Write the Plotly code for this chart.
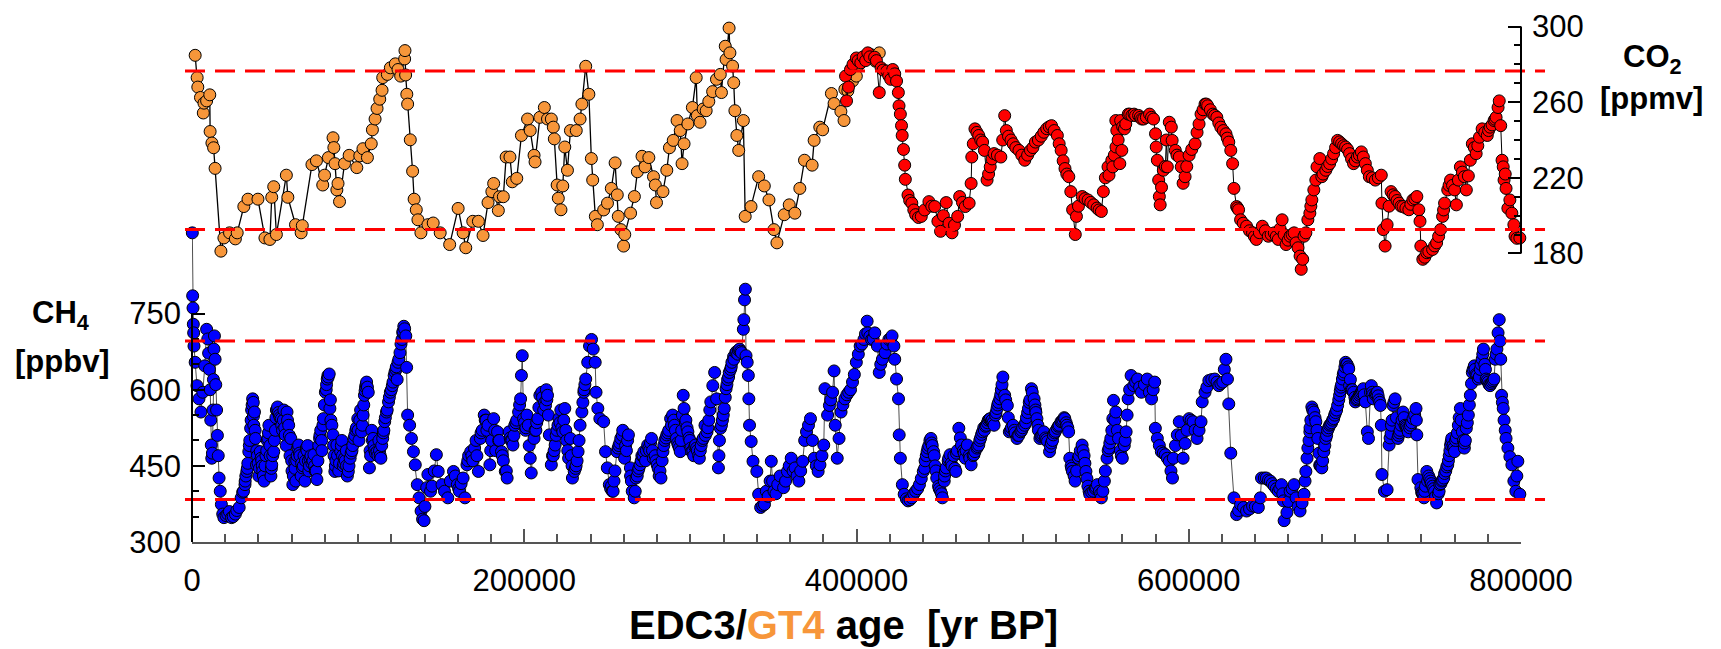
import plotly.graph_objects as go

# ---------------- data ----------------
# CO2, Vostok (GT4 age), ppmv
co2_gt4_age = [1900, 3100, 3500, 5100, 6800, 7200, 8800, 10700, 10900, 12000, 13000, 13900, 17400, 19200, 22600,
               26100, 27200, 31200, 33700, 39700, 43900, 46900, 48000, 49200, 50800, 56800, 57700, 62300, 65700,
               66400, 72200, 74900, 78700, 79800, 82100, 84900, 85400, 86100, 87200, 87900, 88800, 91800, 94600,
               99200, 101000, 102900, 105600, 107900, 108600, 110200, 111400, 113000, 114400, 114800, 117600,
               119400, 122400, 124000, 125600, 128000, 128200, 128600, 129300, 129800, 131400, 132800, 133700,
               135000, 136000, 137800, 142000, 145200, 149400, 155100, 160200, 163200, 164800, 169000, 172400,
               175200, 178200, 180500, 181600, 184400, 185100, 187400, 189100, 191400, 192800, 195500, 198300,
               202000, 203600, 205900, 206500, 209400, 212100, 214000, 216300, 217500, 218100, 219800, 220500,
               222100, 223200, 224400, 226000, 227800, 231300, 233600, 234700, 237000, 238900, 240400, 241200,
               242800, 244000, 247800, 250100, 252400, 254700, 256000, 256600, 258200, 259800, 260500, 264000,
               266300, 268100, 270900, 272700, 275000, 277800, 278900, 279600, 283500, 285800, 287400, 289700,
               292000, 293900, 295000, 296200, 298500, 301200, 303500, 304200, 305800, 307700, 309500, 311100,
               313400, 315700, 318000, 318700, 321000, 321500, 323300, 323800, 325400, 326100, 326800, 328000,
               329100, 331900, 333000, 336500, 341100, 344500, 347300, 350300, 352100, 356500, 359500, 362900,
               365900, 368700, 373300, 374500, 377900, 379600, 384900, 386500, 390600, 392500, 393000, 394800,
               397600, 399900, 401700, 408600, 411400, 413700]
co2_gt4 = [284.8, 273, 268, 262.5, 254.3, 259.5, 260.7, 263.9, 244.5, 238.4, 235.9, 225, 181.2, 188.2, 190.9,
           187.7, 190.9, 204.8, 208.7, 208.7, 188.2, 187.4, 209.7, 215.3, 190, 221.4, 209.7, 195.2, 190.9,
           194.7, 227, 229, 216.2, 221.4, 230.7, 241.2, 236, 227.5, 213.6, 217, 207.4, 227.5, 231.9,
           225.4, 231.6, 235.4, 230.7, 238, 245.4, 251.1, 256.7, 261.6, 266.3, 273, 274.7,
           278.2, 280.3, 277.3, 273.8, 282.9, 287.3, 274.4, 264.2, 259, 240.1, 223.5, 208.7,
           203.1, 197.8, 190.9, 195.2, 196.1, 190.9, 184.7, 203.8, 190.9, 183, 197, 197,
           189.5, 206.9, 212.7, 217, 202.7, 210, 210, 231, 231, 217.9, 219.7, 242.4,
           251.1, 245, 231.9, 228.4, 252, 257.2, 251.1, 251.1, 246.8, 240.6, 216.2, 209.2,
           203.1, 215.7, 236.3, 224, 245, 245, 251.1, 259, 279, 264.2, 230.2, 218.8,
           199.6, 195.2, 203, 206.6, 214.4, 227.9, 211, 199.6, 192.6, 183.9, 190, 201.3,
           210.1, 223.2, 231.4, 225.8, 230.7, 220.6, 216.2, 206.9, 212.7, 224, 235.9, 239.8,
           250.3, 245, 227.5, 238, 248.5, 257.2, 273, 252.9, 249.4, 256.4, 255.5, 260.4,
           265.6, 272.1, 274.7, 265.1, 289.6, 282.6, 299.2, 286.1, 279.1, 270.3, 255.5, 242.4,
           234.5, 250.3, 199.6, 204.8, 220.6, 215.7, 208.3, 192.6, 185.6, 200.5, 205.7, 201.3,
           214.4, 229.3, 226.7, 239.8, 246.8, 245.4, 264.6, 259.3, 255.1, 250.3, 266.8, 266,
           271.2, 273.8, 280, 285.2, 281.7, 286.1]

# CO2, EPICA Dome C (EDC3 age), ppmv
co2_edc_age = [393400, 394000, 396400, 399900, 402600, 406800, 410900, 413700, 414800, 418300, 420600, 421800,
               424100, 425200, 425600, 426400, 427100, 427500, 429000, 429400, 431000, 433300, 435600, 439000,
               443600, 447100, 450600, 454000, 457500, 460900, 462100, 465500, 467800, 469000, 469400, 471300,
               473600, 475900, 477000, 478600, 480500, 482800, 486900, 489200, 490200, 494300, 497800, 501300,
               504700, 507700, 512800, 517400, 520900, 523200, 525500, 527800, 529000, 530100, 531700, 532400,
               535900, 539400, 542800, 547400, 548600, 551400, 552000, 553700, 554300, 556100, 556200, 556700,
               558500, 559000, 559700, 561300, 562100, 563600, 564500, 567100, 568000, 571700, 572800, 576400,
               578800, 580000, 580400, 581100, 581900, 582300, 582800, 584700, 587100, 588300, 589500, 590000,
               591900, 594300, 595500, 596600, 597800, 600200, 603800, 606200, 607400, 609800, 611400, 614500,
               616900, 619300, 622400, 624100, 625300, 626400, 627200, 628800, 630000, 631200, 634800, 638400,
               640700, 644300, 647900, 651500, 653900, 656200, 658600, 661000, 663400, 664600, 667000, 667700,
               668600, 669400, 670500, 671700, 672900, 674100, 675300, 676500, 677200, 678900, 680100, 682500,
               684800, 687200, 689600, 692000, 694400, 696800, 699200, 701500, 703900, 706300, 708700, 712300,
               715900, 716300, 717100, 718200, 719400, 721800, 724200, 726600, 729000, 732500, 734900, 737300,
               738500, 739200, 739700, 740900, 743300, 746800, 749200, 751600, 752800, 754000, 755900, 757600,
               760000, 761100, 762300, 763500, 765900, 767100, 769500, 770700, 773000, 775000, 776600, 779700,
               781400, 783800, 785000, 786200, 786900, 787800, 788600, 789300, 789800, 791000, 792100, 793300,
               794500, 795700, 796400, 799300, 802900]
co2_edc = [273.8, 260.7, 277.3, 283.4, 280.8, 286.1, 283.8, 265.1, 278.2, 276.5, 272.1, 277.3,
           271.2, 265.1, 258.1, 253.7, 247.6, 242.4, 226.7, 219.2, 210.9, 206.6, 200.5, 199.6,
           207.4, 204.8, 191.7, 206.9, 190.9, 199.6, 210.1, 204.8, 206.6, 217, 231, 245.9,
           242.4, 238.9, 234.5, 218.8, 225.8, 232.8, 231, 252.9, 245, 238, 234.5, 229.3,
           234.5, 238.9, 244.1, 247.6, 242.4, 234.5, 224.9, 220.6, 212.7, 203.1, 190, 199.6,
           210.1, 208.3, 205.7, 202.2, 212.7, 225.8, 221.4, 229.3, 225.8, 250.3, 236.3, 245,
           227.5, 250.3, 234.5, 245.9, 248.5, 253.7, 253.7, 253.7, 252.9, 251.1, 251.1, 253.7,
           251.1, 243.3, 236.3, 229.3, 218.8, 210.1, 205.7, 224, 225.8, 249.4, 246.8, 239.8,
           234.5, 231, 225.8, 217.1, 220.6, 231.9, 238, 248.5, 253.7, 259, 258.1, 253.7,
           252, 246.8, 243.3, 238.9, 234.5, 227.5, 214.4, 204.8, 203.1, 197.8, 194.4, 190.9,
           187.4, 194.4, 189.1, 190.9, 187.4, 197.8, 184.7, 189.1, 190.9, 185.6, 178.6, 171.6,
           176.9, 189.1, 190.9, 197.8, 201.3, 208.3, 213.6, 218.8, 225.8, 230.2, 220.6, 224,
           227.5, 232.8, 239.8, 238, 236.3, 232.8, 227.5, 231, 233.7, 227.5, 220.6, 218.8,
           221.4, 206.6, 192.6, 183.9, 195.2, 212.7, 210.1, 206.6, 204.8, 203.1, 208.3, 210.1,
           203.1, 197, 183.9, 176.9, 180.4, 182.1, 185.6, 192.6, 199.6, 206.6, 213.6, 218.8,
           213.6, 205.7, 218.8, 225.8, 220.6, 213.6, 229.3, 238, 232.8, 241.5, 245.9, 242.4,
           246.8, 250.3, 252, 257.2, 260.7, 247.6, 229.3, 225.8, 218.8, 214.4, 203.9, 208.3,
           201.3, 195.2, 189.1, 188.2, 188.2]
# further EDC CO2 samples read from the dense parts of the record
co2_edc_age_b = [395200, 397900, 401000, 404000, 405500, 408000, 412000, 416000, 419400, 423000, 428300, 432000,
                 434500, 437300, 441000, 445300, 449000, 452300, 455700, 459000, 463800, 470300, 472500, 474800,
                 479500, 481600, 484800, 488000, 491500, 493000, 495900, 499500, 503000, 506200, 509500, 511200,
                 514500, 516000, 519000, 522000, 524400, 526600, 533600, 537600, 541000, 544800, 546000, 549800,
                 555200, 557500, 560200, 565800, 569800, 570800, 574500, 577600, 583600, 585900, 586500, 592900,
                 598800, 601800, 605000, 608600, 610600, 613000, 615600, 618100, 620800, 623200, 629400, 632800,
                 636600, 639500, 642500, 646100, 649600, 652700, 655000, 657400, 659800, 662200, 665800, 673500,
                 680800, 683600, 686000, 688400, 690800, 693200, 695600, 698000, 700300, 702700, 705100, 707500,
                 710500, 714100, 720600, 723000, 725400, 727800, 730700, 733700, 736100, 742100, 744500, 748000,
                 750400, 753400, 756700, 758800, 764700, 768300, 771900, 774000, 778200, 780500, 782600, 784400,
                 790500, 797500, 801000]
co2_edc_b = [268, 280, 282, 284, 282, 284, 282, 277, 274, 275, 235, 208,
             203, 199, 203, 205, 197, 200, 196, 195, 207, 238, 244, 240,
             222, 230, 232, 240, 242, 240, 236, 232, 232, 236, 240, 242,
             246, 247, 245, 238, 229, 222, 205, 209, 207, 204, 203, 220,
             232, 240, 247, 253, 253, 252, 252, 252, 215, 226, 240, 232,
             226, 235, 244, 256, 259, 256, 253, 249, 245, 241, 204, 196,
             192, 189, 191, 192, 190, 189, 193, 190, 187, 190, 183, 205,
             222, 226, 230, 236, 239, 237, 235, 230, 229, 232, 231, 224,
             220, 220, 205, 211, 208, 205, 204, 206, 209, 178, 181, 184,
             189, 203, 216, 216, 223, 221, 236, 237, 244, 245, 248, 251,
             222, 188, 188]

# CH4, EPICA Dome C (EDC3 age), ppbv
ch4_age = [200, 400, 600, 800, 1000, 1200, 1900, 3000, 4200, 5400, 6500, 7700, 8800, 9500, 10000, 10500, 11000,
           11300, 11600, 11900, 12300, 12600, 12900, 13200, 13500, 13900, 14300, 14800, 15300, 15800, 16300,
           17000, 17700, 18500, 19200, 21500, 23800, 26100, 28400, 29600, 31900, 33000, 34200, 35300, 36500,
           37600, 38200, 38800, 41100, 43400, 45700, 48000, 49200, 51500, 53800, 56100, 57200, 59500, 60700,
           61900, 64200, 66500, 68800, 71000, 73400, 75200, 76800, 79100, 80300, 81400, 82600, 83000, 84900,
           86000, 87200, 89500, 91800, 94100, 95200, 97500, 99800, 102100, 103800, 105100, 106100, 106800,
           109000, 111400, 113700, 114800, 116000, 117100, 118300, 119400, 120600, 121700, 124000, 125200,
           126400, 127500, 128700, 129200, 129800, 131000, 132100, 133300, 134400, 135600, 136700, 137900,
           138800, 139700, 140200, 141300, 142000, 143600, 147100, 148200, 150500, 154000, 157400, 159700,
           163200, 164300, 165500, 167800, 170100, 172400, 173600, 175900, 178200, 179300, 181600, 183900,
           186300, 188600, 189700, 190900, 193200, 194300, 196600, 197800, 198300, 198800, 199600, 202400,
           203600, 204200, 205900, 208200, 209400, 210500, 212800, 214000, 215100, 216300, 218600, 220900,
           223200, 224400, 226700, 227800, 229000, 230100, 232400, 233600, 234700, 235900, 237000, 238200,
           239300, 240500, 241500, 242700, 243200, 244300, 245500, 247800, 248900, 250000, 251200, 253500,
           255800, 258100, 260400, 262700, 263900, 265000, 266200, 267300, 269700, 272000, 274300, 276600,
           277700, 280000, 282300, 283500, 285800, 288100, 289300, 291600, 293900, 295700, 296200, 298500,
           300800, 303100, 305400, 307700, 310000, 312300, 313500, 314600, 315800, 316900, 318100, 320400,
           321500, 323400, 325000, 327300, 329600, 330700, 331900, 332200, 332600, 333100, 333500, 334200,
           334900, 335200, 335600, 336600, 337700, 340000, 341100, 342300, 344600, 345700, 348000, 348700,
           350300, 352600, 356100, 358400, 360700, 363000, 365300, 367600, 369900, 372300, 374600, 376900,
           378000, 380300, 381000, 382600, 383700, 385600, 386500, 387200, 388400, 389500, 390700, 393000,
           395300, 397600, 399900, 402200, 404500, 406400, 406800, 409100, 411000, 412600, 413700, 415600,
           417200, 419500, 421400, 422500, 423000, 424100, 425300, 425700, 426400, 427600, 428700, 431000,
           433300, 435600, 437900, 440200, 442500, 444800, 446400, 448300, 450600, 451700, 454000, 456300,
           459800, 461600, 463200, 465500, 466700, 469000, 471300, 473600, 475900, 478200, 480500, 482800,
           484600, 486300, 488100, 489200, 490800, 492000, 494300, 496600, 498900, 501200, 503500, 505300,
           506900, 508600, 510400, 512700, 515000, 516200, 518500, 520800, 523100, 525400, 527700, 528400,
           530000, 531600, 533500, 535800, 538100, 540400, 542700, 545000, 547400, 549200, 550800, 553100,
           554300, 554700, 556100, 557700, 560000, 562300, 563500, 565300, 566900, 569200, 571500, 575000,
           577600, 579500, 579900, 581100, 583500, 585900, 588300, 590200, 590700, 593100, 594300, 596600,
           597800, 600200, 602600, 605000, 607400, 608100, 609800, 612100, 615700, 618100, 620500, 622400,
           623300, 624100, 625300, 627200, 628800, 631200, 634800, 638400, 641900, 643100, 643800, 646700,
           649100, 651500, 653900, 655800, 657000, 657400, 659100, 661000, 663400, 664600, 667000, 668200,
           669400, 670500, 671700, 672900, 674100, 675300, 676500, 677700, 678900, 680100, 681300, 682500,
           684800, 687200, 689600, 690800, 692500, 694400, 696300, 696800, 699200, 700300, 702700, 705100,
           706300, 707500, 708200, 709900, 711100, 713500, 715400, 715900, 716300, 717800, 719400, 720600,
           721800, 723000, 724200, 725900, 727800, 729000, 730200, 732100, 735000, 736800, 737300, 738000,
           739700, 741600, 743300, 745600, 748000, 749200, 751100, 753500, 755900, 757600, 758300, 760000,
           762300, 763500, 764700, 765900, 767100, 768300, 769500, 770700, 771900, 774300, 776600, 777400,
           779000, 781400, 783800, 784500, 785500, 786200, 786900, 787400, 787800, 788300, 789300, 789800,
           791000, 792100, 793300, 794500, 795700, 796900, 798100, 799300, 801200, 802900]
ch4 = [909, 785, 761, 729, 712, 686, 654, 608, 582, 556, 595, 647, 719, 700, 672, 640, 600,
       540, 491, 465, 475, 560, 620, 680, 706, 660, 610, 560, 510, 470, 426,
       400, 374, 355, 348, 355, 348, 355, 368, 387, 413, 439, 478, 524, 582,
       556, 504, 452, 478, 420, 504, 452, 478, 566, 543, 511, 556, 504, 413,
       459, 491, 446, 485, 465, 472, 423, 504, 543, 595, 621, 631, 563, 511,
       439, 491, 478, 465, 439, 465, 504, 543, 517, 589, 615, 595, 446,
       504, 478, 465, 504, 537, 556, 576, 595, 608, 628, 654, 673,
       699, 725, 706, 644, 550, 530, 504, 478, 452, 413, 387, 361,
       345, 342, 370, 407, 433, 400, 472, 439, 413, 387, 439, 413,
       426, 387, 452, 478, 485, 439, 504, 550, 530, 452, 543, 517,
       478, 439, 426, 517, 491, 530, 556, 582, 628, 667, 543, 530,
       465, 436, 504, 543, 589, 595, 569, 589, 511, 452, 491, 543,
       517, 563, 465, 504, 426, 439, 478, 530, 556, 595, 621, 654,
       686, 699, 680, 654, 595, 563, 543, 537, 478, 446, 413, 400,
       478, 504, 465, 511, 446, 400, 387, 426, 452, 478, 491, 504,
       465, 452, 426, 478, 511, 543, 550, 504, 478, 589, 563, 517,
       478, 491, 465, 504, 517, 576, 608, 634, 582, 446, 524, 563,
       602, 634, 654, 673, 680, 673, 719, 738, 777, 798, 667, 654,
       628, 582, 530, 498, 459, 439, 394, 368, 374, 400, 420, 459,
       400, 413, 407, 439, 465, 446, 420, 459, 517, 543, 465, 439,
       452, 491, 602, 550, 569, 595, 637, 530, 465, 504, 556, 582,
       595, 615, 654, 686, 699, 735, 712, 699, 712, 686, 634, 660,
       673, 699, 706, 686, 660, 621, 582, 511, 465, 413, 394, 381,
       387, 400, 413, 439, 478, 504, 478, 426, 400, 387, 446, 472,
       439, 524, 491, 465, 491, 452, 478, 491, 517, 530, 543, 530,
       563, 582, 625, 589, 569, 517, 530, 504, 517, 530, 563, 602,
       582, 543, 504, 517, 498, 478, 511, 524, 537, 543, 517, 465,
       439, 420, 465, 491, 439, 394, 400, 413, 387, 420, 465, 504,
       543, 579, 556, 504, 465, 517, 582, 628, 608, 621, 595, 621,
       582, 615, 524, 504, 478, 472, 459, 426, 465, 511, 537, 465,
       494, 543, 537, 504, 537, 576, 595, 618, 621, 608, 615, 660,
       621, 572, 475, 387, 354, 374, 361, 371, 368, 387, 426, 426,
       420, 410, 400, 413, 381, 342, 358, 400, 413, 387, 361, 377,
       394, 439, 485, 517, 566, 556, 537, 504, 452, 446, 478, 504,
       530, 543, 569, 589, 621, 654, 641, 608, 595, 576, 589, 602,
       576, 517, 504, 608, 582, 595, 569, 530, 433, 400, 403, 491,
       514, 569, 582, 504, 530, 556, 530, 517, 543, 563, 511, 423,
       407, 387, 439, 420, 400, 377, 413, 426, 452, 491, 504, 478,
       530, 563, 517, 485, 524, 550, 589, 634, 647, 621, 660, 680,
       621, 608, 621, 660, 680, 712, 738, 696, 660, 589, 563, 540,
       504, 485, 468, 452, 420, 400, 459, 394, 377, 384]
# further CH4 samples read from the dense parts of the record
ch4_age_b = [20500, 22500, 24800, 27000, 30500, 32400, 33600, 34800, 35900, 36900, 37200, 39400, 40200, 42000,
             42600, 44500, 46300, 46900, 47500, 50200, 50800, 52600, 54500, 55300, 56700, 58200, 59000, 60200,
             62500, 63300, 65000, 65700, 67400, 68000, 69600, 70300, 72200, 74200, 77500, 78200, 79700, 81000,
             82000, 83600, 85500, 86600, 88300, 90200, 91000, 92900, 93500, 96300, 98600, 100500, 101500, 103000,
             104500, 107500, 108200, 110000, 112500, 115500, 122800, 123500, 126900,
             144500, 145800, 152000, 155500, 158500, 161000, 166500, 169000, 171000, 174700, 177000, 180400,
             182800, 185000, 187400, 192000, 195500, 200800, 201600, 207000, 211700, 213300, 217500, 219700,
             222000, 225500, 228300, 231200, 236500,
             252500, 254600, 257000, 259300, 261500, 264500, 268500, 270800, 273000, 275500, 278800, 281200,
             284600, 287000, 290400, 292800, 294800, 297300, 299700, 302000, 304200, 306500, 308800, 311100,
             317500, 319300, 322400, 324200, 326200, 328500,
             343500, 346800, 349500, 351500, 354000, 357300, 359500, 361800, 364200, 366400, 368800, 371100,
             373500, 375800, 379200, 384500, 391800, 394200, 396400, 398700, 401100, 403300, 405400, 408000,
             410000, 414600, 418300, 420500,
             430000, 432200, 434500, 436800, 439000, 441300, 443600, 445600, 447300, 449400, 452800, 455200,
             457500, 458600, 460700, 464300, 467800, 470200, 472500, 474700, 477000, 479300, 481600, 483700,
             485500, 487200, 493200, 495500, 497700, 500000, 502300, 504400, 507800, 509500, 511500, 513800,
             517300, 519700, 522000, 524300, 526600, 529200, 532500, 534700, 537000, 539300, 541600, 543800,
             546200, 548300, 552000, 555500, 558800, 561200,
             564400, 568000, 570400, 573300, 576300, 578600, 582300, 584700, 587100, 589300, 592000, 595500,
             599000, 601400, 603800, 606200, 610900, 613900, 617000, 619300, 621400, 630000, 633000, 636600,
             640100, 645500, 648000, 650300, 652700, 654800, 656600, 660000, 662200, 665800, 673500, 679500,
             683600, 686000, 688400, 691600, 693400, 695300, 697800, 701500, 703900, 710500, 712300, 714500,
             722400, 726800, 731100, 733500, 740600, 742500, 744400, 746800, 750200, 752300, 754700, 756800,
             759100, 761100, 766500, 772900, 775500, 778200, 780200, 782600, 790500, 797500, 800300, 802000]
ch4_b = [352, 360, 350, 362, 398, 430, 455, 500, 560, 575, 530, 470, 430, 460,
         440, 470, 530, 490, 430, 520, 560, 550, 520, 560, 490, 530, 470, 440,
         420, 470, 470, 430, 470, 420, 490, 440, 455, 440, 520, 480, 570, 610,
         625, 540, 470, 460, 440, 500, 450, 480, 430, 480, 520, 500, 560, 550,
         605, 470, 520, 480, 500, 520, 640, 620, 712,
         410, 440, 400, 420, 430, 400, 470, 460, 500, 520, 540, 500,
         480, 500, 460, 500, 540, 520, 550, 520, 560, 600, 470, 520,
         560, 500, 470, 450, 610,
         410, 440, 490, 520, 480, 420, 440, 470, 460, 480, 470, 430,
         500, 520, 530, 490, 520, 540, 500, 470, 480, 490, 530, 540,
         500, 540, 620, 640, 660, 670,
         372, 390, 420, 395, 430, 420, 450, 440, 430, 440, 500, 530,
         500, 450, 470, 580, 570, 590, 600, 630, 670, 690, 710, 705,
         700, 650, 690, 700,
         385, 383, 395, 405, 425, 460, 490, 490, 450, 410, 420, 460,
         450, 470, 480, 480, 470, 470, 485, 505, 520, 540, 540, 550,
         575, 600, 525, 515, 510, 525, 545, 580, 560, 520, 510, 505,
         495, 518, 530, 540, 530, 450, 440, 480, 470, 410, 398, 405,
         400, 400, 485, 540, 480, 490,
         600, 615, 605, 610, 595, 600, 490, 475, 465, 440, 490, 510,
         520, 540, 520, 520, 605, 620, 615, 612, 640, 362, 368, 365,
         370, 426, 422, 415, 405, 405, 395, 380, 405, 370, 540, 450,
         520, 535, 555, 605, 635, 650, 600, 582, 595, 595, 590, 580,
         540, 515, 525, 530, 395, 410, 430, 410, 395, 420, 440, 470,
         490, 505, 500, 630, 640, 650, 615, 615, 520, 430, 385, 380]
ch4_age_c = [31000, 32000, 33300, 34500, 35600, 36200, 37000, 38000, 39000, 39800, 40600, 41600, 42300, 43000,
             44000, 45000, 45300, 46000, 47000, 47800, 48600, 49600, 50500, 51100, 52000, 53000, 54000, 55000,
             55800, 57500, 58600, 60000, 61000, 62000, 63000, 63800, 64700, 66000, 67000, 68300, 69200, 70000,
             70700, 71600, 72800, 73800, 74700, 75800, 76300, 77000, 78000, 78800, 80800, 81800, 83300, 84200,
             85200, 86300, 87600, 88800, 89900, 90600, 91400, 92300, 93000, 94500, 95800, 96800, 98000, 99000,
             100000, 101000, 102600, 103400, 104200, 104800, 105600, 107200, 108600, 109500, 110500, 111900,
             112900, 113300, 114200, 115200, 116400, 117500, 118800, 120000, 121000, 122200, 123000, 124500,
             125800, 127000, 128000,
             160500, 162000, 166000, 168500, 171500, 174000, 176500, 177500, 179800, 182200, 184600, 186800,
             189200, 191500, 192600, 193800, 195000, 197200, 200200, 201000, 203000, 206500, 207500, 208800,
             211000, 212200, 213600, 214500, 217000, 218000, 219200, 220300, 221500, 222600, 223800, 225000,
             226200, 228800, 230800, 231800, 233000, 235300, 236000,
             252000, 253000, 254000, 256500, 257500, 259000, 261000, 262200, 264000, 266800, 268000, 269000,
             270400, 271500, 273500, 275000, 276000, 277200, 279300, 280600, 281700, 283000, 284000, 285300,
             286500, 288600, 290000, 291000, 292300, 293400, 294400, 295200, 297000, 298000, 299200, 300300,
             301500, 302600, 303700, 305000, 306000, 307200, 309000, 310500, 311700, 317200, 318700, 319800,
             321000, 322000, 323000, 324600, 326000, 327800, 329000, 330300,
             441000, 442000, 443000, 444200, 445200, 446800, 447800, 449800, 451200, 453000, 453500, 455500,
             457000, 459200, 460200, 462500, 464800, 466000, 468200, 470700, 472900, 474200, 475300, 476600,
             477600, 478800, 480000, 481200, 482200, 484000, 485000, 486800, 487600, 489800, 491400, 492800,
             495000, 497200, 499500, 501800, 503000, 504000, 505800, 507400, 508000, 509200, 511000, 512200,
             514400, 516800, 518000, 519300, 521500, 523700, 525000, 526200, 527200, 529500, 531000, 534000,
             536400, 537500, 538700, 540000, 544200, 547000, 549800, 551500, 552500, 553700, 557000, 559400,
             561700, 562900,
             670000, 671200, 672400, 673000, 674600, 676000, 677200, 678400, 679000, 680600, 681900, 683000,
             684200, 685400, 686600, 687800, 689000, 690300, 691200, 692000, 693000, 694000, 695000, 696000,
             697300, 698500, 700000, 701000, 702200, 703300, 704500, 705600, 709400, 710800, 712800, 714000,
             715000, 721200, 722000, 723500, 725000, 726300, 727200, 728400, 729600, 730800, 731600, 733000,
             734200, 736000, 737000, 740200, 741000, 742000, 743800, 745000, 746000, 747400, 748600, 750700,
             751800, 752800, 754000, 755300, 756300, 757200, 758000, 759600, 760600, 761700, 762800, 764000,
             765300, 766000, 767700, 768900, 770200, 771200, 772300, 773500, 774900, 775900, 777000, 778600,
             779600, 780800, 782000, 783200, 785000, 788800]
ch4_c = [400, 420, 445, 490, 540, 570, 548, 520, 480, 455, 445, 465, 450, 430,
         450, 480, 500, 515, 470, 445, 470, 500, 545, 560, 555, 545, 530, 540,
         525, 540, 510, 460, 430, 445, 460, 485, 475, 455, 450, 460, 480, 460,
         450, 470, 460, 450, 440, 460, 490, 510, 500, 530, 600, 628, 580, 530,
         490, 450, 470, 455, 490, 470, 455, 460, 450, 450, 475, 490, 510, 525,
         520, 540, 530, 570, 598, 610, 605, 480, 500, 490, 475, 470,
         480, 470, 490, 515, 545, 560, 585, 600, 615, 635, 645, 660,
         690, 715, 720,
         405, 415, 460, 470, 470, 515, 540, 520, 480, 520, 500, 470,
         440, 505, 500, 510, 535, 570, 535, 525, 490, 520, 535, 565,
         585, 575, 580, 550, 470, 480, 510, 530, 535, 525, 540, 520,
         480, 450, 445, 460, 500, 575, 600,
         405, 400, 420, 485, 495, 510, 490, 500, 430, 400, 430, 445,
         460, 470, 480, 485, 495, 480, 460, 445, 440, 460, 490, 505,
         515, 530, 540, 520, 495, 485, 500, 550, 535, 525, 505, 485,
         480, 488, 485, 470, 480, 500, 510, 525, 560, 470, 530, 550,
         585, 610, 625, 645, 665, 675, 678, 676,
         445, 470, 485, 500, 495, 470, 440, 405, 395, 430, 440, 465,
         455, 445, 475, 505, 475, 480, 465, 472, 488, 500, 512, 525,
         528, 535, 542, 538, 535, 555, 570, 590, 610, 580, 545, 520,
         520, 510, 520, 535, 555, 575, 595, 570, 555, 530, 508, 512,
         502, 488, 500, 515, 528, 538, 545, 535, 525, 445, 430, 470,
         480, 455, 425, 400, 408, 395, 440, 480, 495, 520, 520, 470,
         500, 550,
         420, 465, 500, 525, 560, 545, 520, 475, 450, 460, 490, 510,
         525, 532, 540, 550, 560, 580, 598, 610, 630, 645, 650, 645,
         620, 600, 585, 580, 585, 592, 598, 590, 595, 590, 592, 588,
         575, 505, 530, 575, 545, 510, 520, 540, 545, 528, 522, 525,
         535, 550, 540, 398, 395, 400, 420, 425, 415, 405, 390, 400,
         415, 422, 435, 448, 460, 480, 498, 485, 500, 515, 545, 540,
         500, 495, 535, 570, 612, 640, 640, 628, 625, 650, 670, 640,
         618, 610, 612, 618, 670, 575]

# reference levels (dashed lines)
ch4_levels = [383.5, 696]
co2_levels = [192.6, 276.5]

# axis ticks
x_major = [0, 200000, 400000, 600000, 800000]
x_minor = [v for v in range(0, 800001, 20000) if v not in x_major]
ch4_major = [300, 450, 600, 750]
ch4_minor = [350, 400, 500, 550, 650, 700]
co2_major = [180, 220, 260, 300]
co2_minor = [190, 200, 210, 230, 240, 250, 270, 280, 290]

# ---------------- layout geometry ----------------
W, H = 1721, 649
ML, MR, MT, MB = 192, 200, 10, 107
plot_h = H - MT - MB
plot_w = W - ML - MR
ch4_pxu = 230.6 / 450.0          # pixels per ppbv
co2_pxu = (250.7 - 21.7) / 120.0  # pixels per ppmv
bottom_px = MT + plot_h
y1_range = [300, 300 + plot_h / ch4_pxu]
y2_range = [180 - (bottom_px - 250.7) / co2_pxu, 180 + (250.7 - MT) / co2_pxu]

def s(xs, ys):
    z = sorted(zip(xs, ys))
    return [a for a, b in z], [b for a, b in z]

FONT = "Liberation Sans, Arial, sans-serif"
ORANGE = "#F7963A"
MSIZE = 12

fig = go.Figure()
cx, cy = s(ch4_age + ch4_age_b + ch4_age_c, ch4 + ch4_b + ch4_c)
fig.add_trace(go.Scatter(x=cx, y=cy, mode="lines+markers", yaxis="y",
                         line=dict(color="#222", width=0.8),
                         marker=dict(size=MSIZE, color="#0000FF", line=dict(color="black", width=1)),
                         cliponaxis=False, showlegend=False))
gx, gy = s(co2_gt4_age, co2_gt4)
fig.add_trace(go.Scatter(x=gx, y=gy, mode="lines+markers", yaxis="y2",
                         line=dict(color="black", width=1.3),
                         marker=dict(size=MSIZE, color=ORANGE, line=dict(color="black", width=1)),
                         cliponaxis=False, showlegend=False))
ex, ey = s(co2_edc_age + co2_edc_age_b, co2_edc + co2_edc_b)
fig.add_trace(go.Scatter(x=ex, y=ey, mode="lines+markers", yaxis="y2",
                         line=dict(color="black", width=1),
                         marker=dict(size=MSIZE, color="#FF0000", line=dict(color="black", width=1)),
                         cliponaxis=False, showlegend=False))

shapes = []
x_lo = -7.0 / plot_w
x_hi = (1545.0 - ML) / plot_w
DASH = dict(color="#FF0000", width=3, dash="20px,10px")
for v in ch4_levels:
    shapes.append(dict(type="line", xref="paper", yref="y", x0=x_lo, x1=x_hi, y0=v, y1=v, line=DASH))
for v in co2_levels:
    shapes.append(dict(type="line", xref="paper", yref="y2", x0=x_lo, x1=x_hi, y0=v, y1=v, line=DASH))
# axis spines limited to their labelled span
shapes.append(dict(type="line", xref="paper", yref="y", x0=0, x1=0, y0=300, y1=750,
                   line=dict(color="black", width=2)))
shapes.append(dict(type="line", xref="paper", yref="y2", x0=1, x1=1, y0=180, y1=300,
                   line=dict(color="black", width=2)))

annotations = [
    dict(text="<b>EDC3/<span style='color:%s'>GT4</span> age\u00a0 [yr BP]</b>" % ORANGE,
         xref="paper", yref="paper", x=(843.5 - ML) / plot_w, y=(bottom_px - 626) / plot_h,
         xanchor="center", yanchor="middle", showarrow=False,
         font=dict(family=FONT, size=40, color="black")),
    dict(text="<b>CH<sub>4</sub></b>", xref="paper", yref="paper",
         x=(60 - ML) / plot_w, y=(bottom_px - 313) / plot_h, xanchor="center", yanchor="middle",
         showarrow=False, font=dict(family=FONT, size=31, color="black")),
    dict(text="<b>[ppbv]</b>", xref="paper", yref="paper",
         x=(62 - ML) / plot_w, y=(bottom_px - 360) / plot_h, xanchor="center", yanchor="middle",
         showarrow=False, font=dict(family=FONT, size=31, color="black")),
    dict(text="<b>CO<sub>2</sub></b>", xref="paper", yref="paper",
         x=(1652 - ML) / plot_w, y=(bottom_px - 54) / plot_h, xanchor="center", yanchor="middle",
         showarrow=False, font=dict(family=FONT, size=31, color="black")),
    dict(text="<b>[ppmv]</b>", xref="paper", yref="paper",
         x=(1651 - ML) / plot_w, y=(bottom_px - 94) / plot_h, xanchor="center", yanchor="middle",
         showarrow=False, font=dict(family=FONT, size=31, color="black")),
]

fig.update_layout(
    width=W, height=H, margin=dict(l=ML, r=MR, t=MT, b=MB, pad=0),
    paper_bgcolor="white", plot_bgcolor="white", showlegend=False,
    font=dict(family=FONT, color="black"),
    xaxis=dict(range=[0, 800000], showgrid=False, zeroline=False, showline=True,
               linecolor="#555", linewidth=1.5, ticks="inside", ticklen=13, tickwidth=1.5,
               tickcolor="#555", tickmode="array", tickvals=x_major,
               ticktext=[str(v) for v in x_major], tickfont=dict(size=31, family=FONT),
               ticklabelstandoff=10,
               minor=dict(tickmode="array", tickvals=x_minor, ticklen=8, tickwidth=1.5,
                          tickcolor="#555", ticks="inside")),
    yaxis=dict(range=y1_range, showgrid=False, zeroline=False, showline=False,
               ticks="inside", ticklen=13, tickwidth=2, tickcolor="black",
               tickmode="array", tickvals=ch4_major, ticktext=[str(v) for v in ch4_major],
               tickfont=dict(size=31, family=FONT), ticklabelstandoff=10,
               minor=dict(tickmode="array", tickvals=ch4_minor, ticklen=7, tickwidth=2,
                          tickcolor="black", ticks="inside")),
    yaxis2=dict(range=y2_range, overlaying="y", side="right", anchor="x",
                showgrid=False, zeroline=False, showline=False,
                ticks="inside", ticklen=13, tickwidth=2, tickcolor="black",
                tickmode="array", tickvals=co2_major, ticktext=[str(v) for v in co2_major],
                tickfont=dict(size=31, family=FONT), ticklabelstandoff=10,
                minor=dict(tickmode="array", tickvals=co2_minor, ticklen=7, tickwidth=2,
                           tickcolor="black", ticks="inside")),
    shapes=shapes, annotations=annotations,
)

fig.write_html("out.html")
